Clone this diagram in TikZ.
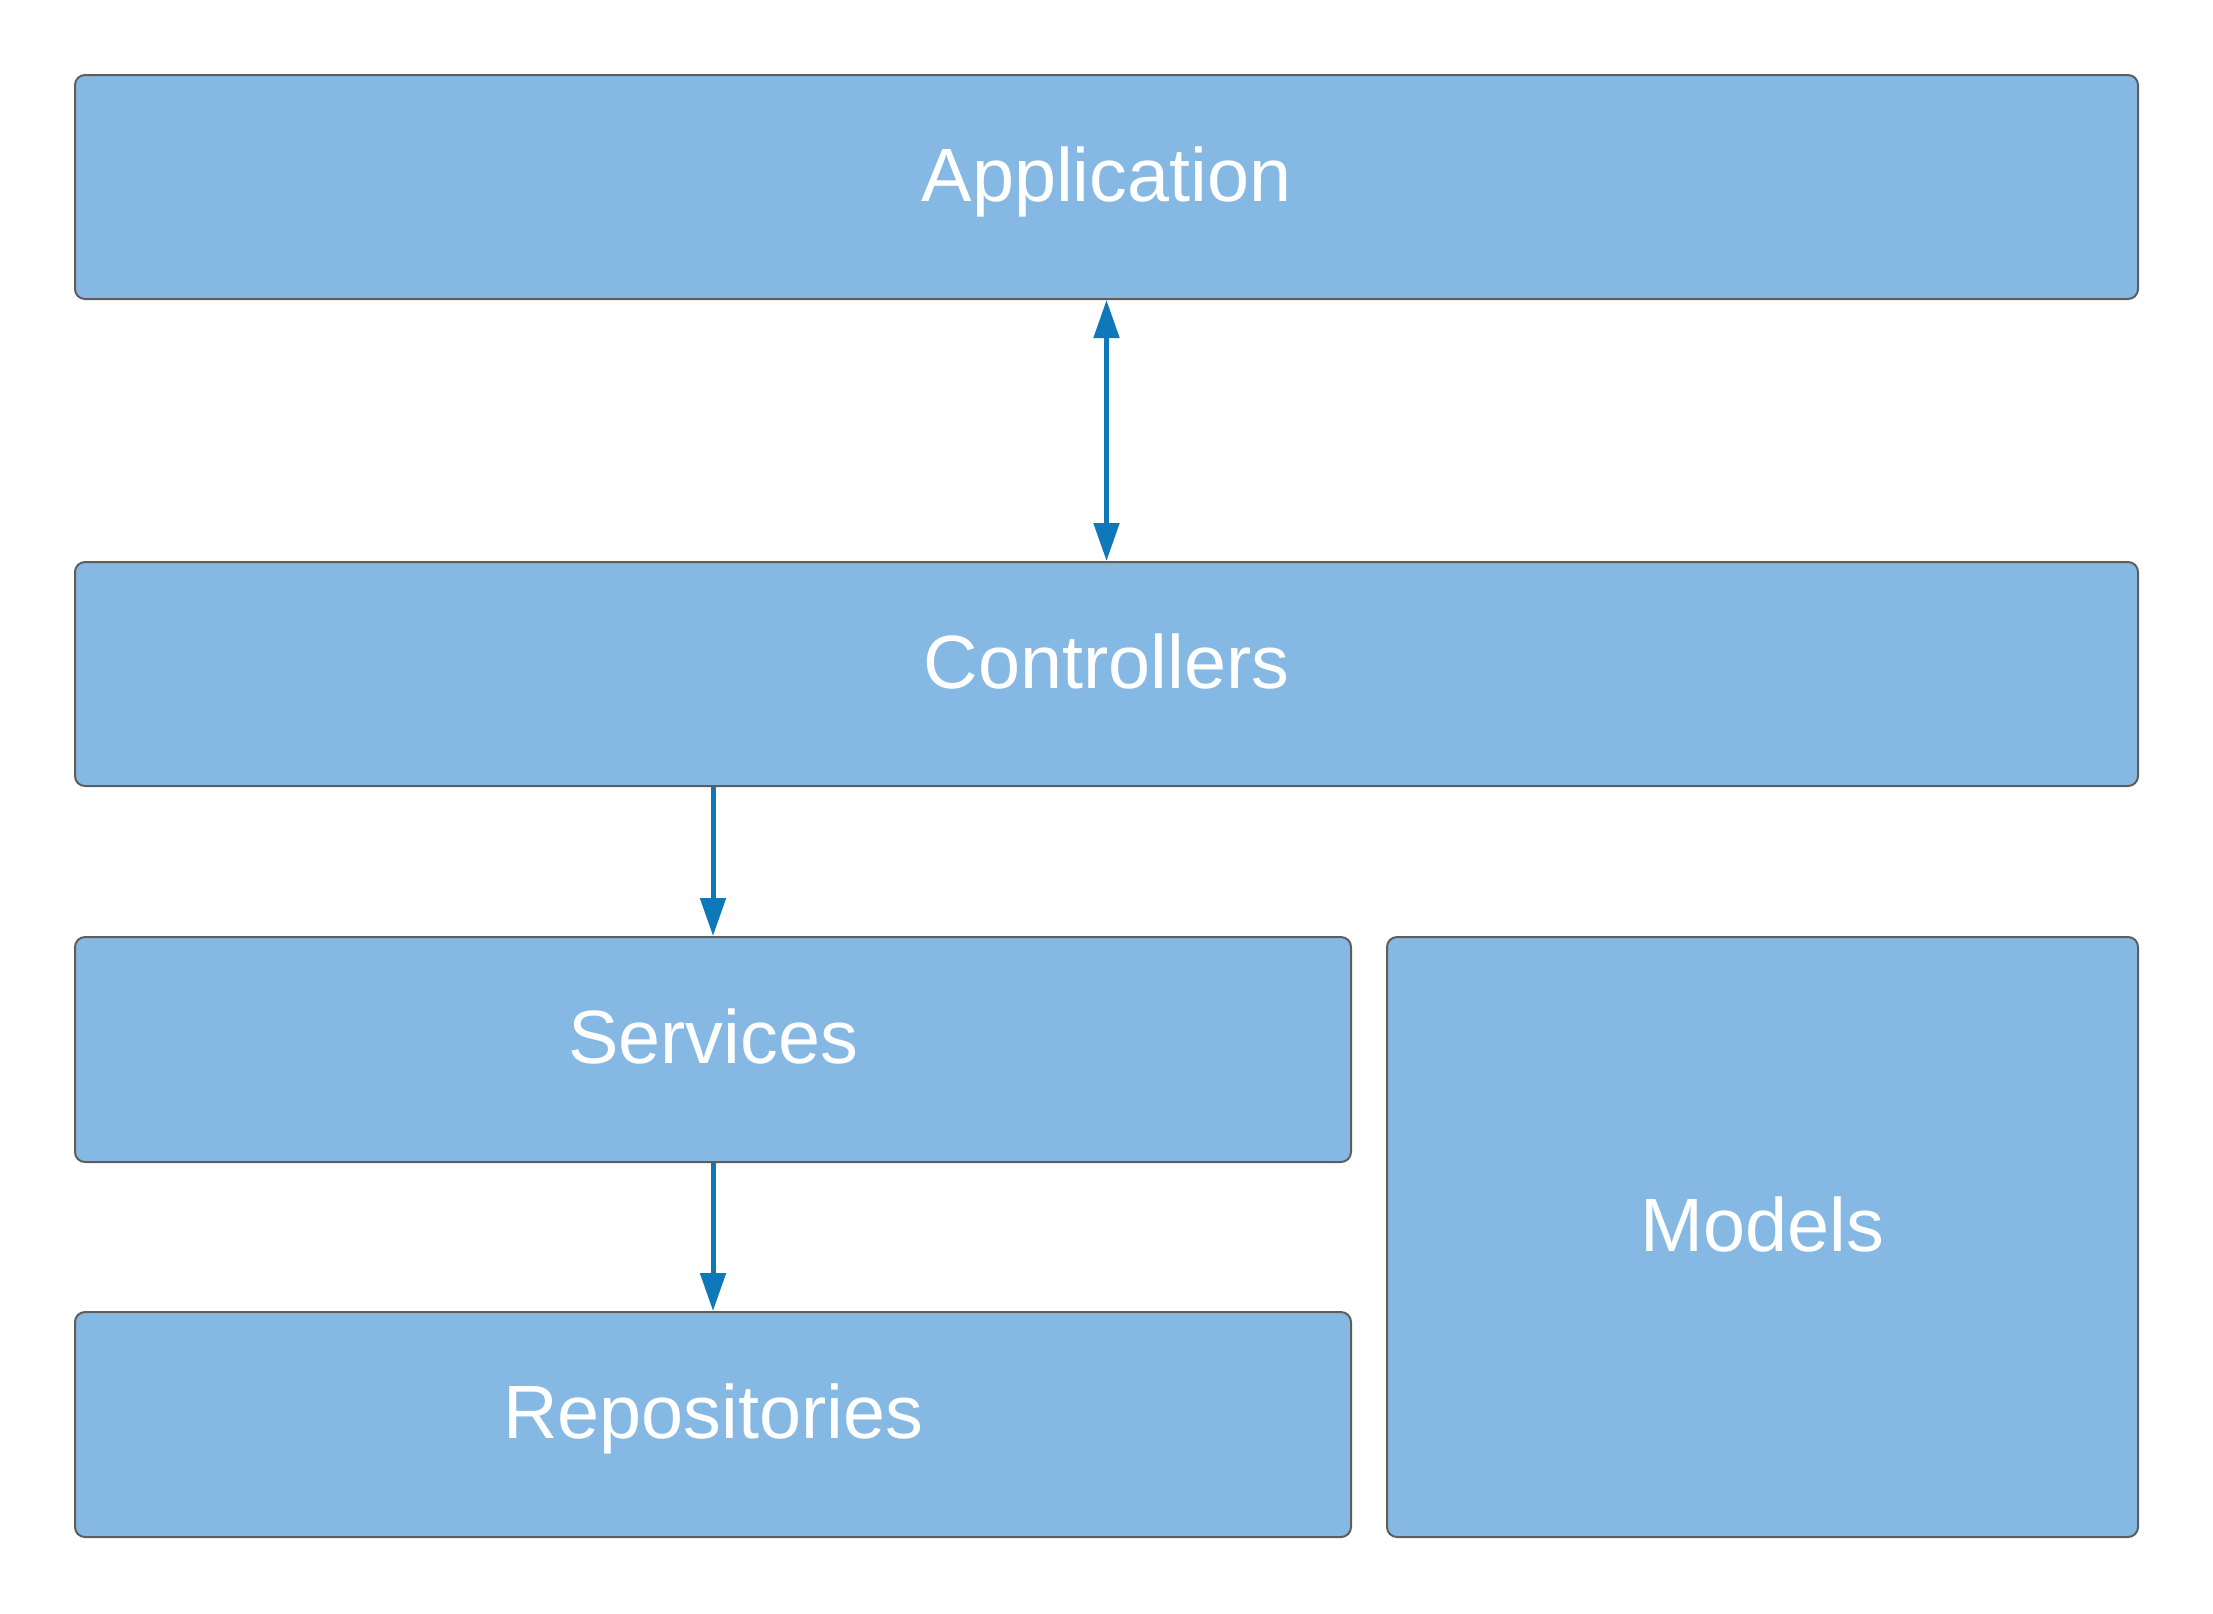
\documentclass[tikz,border=0pt]{standalone}
\usepackage{fontspec}
\setmainfont{Liberation Sans}
\usetikzlibrary{arrows.meta}
\definecolor{layerfill}{HTML}{85B9E3}
\definecolor{layerline}{HTML}{5E5E5E}
\definecolor{arrowblue}{HTML}{0E78B8}
\tikzset{
  layer/.style={draw=layerline,fill=layerfill,line width=0.04cm,rounded corners=0.2cm,
    inner sep=0pt,text=white,font=\fontsize{43}{51}\selectfont,
    text height=1.12cm,text depth=0.56cm},
  flow/.style={draw=arrowblue,line width=0.1cm,
    -{Triangle[width=0.5cm,length=0.76cm]}},
  flowboth/.style={flow,{Triangle[width=0.5cm,length=0.76cm]}-{Triangle[width=0.5cm,length=0.76cm]}}
}
\begin{document}
\begin{tikzpicture}
\useasboundingbox (0,0) rectangle (44.26,-32.26);
% Schichten
\node[layer,minimum width=41.26cm,minimum height=4.48cm]at(22.13,-3.74)(application){Application};
\node[layer,minimum width=41.26cm,minimum height=4.48cm]at(22.13,-13.48)(controllers){Controllers};
\node[layer,minimum width=25.52cm,minimum height=4.5cm]at(14.26,-20.99)(services){Services};
\node[layer,minimum width=25.52cm,minimum height=4.5cm]at(14.26,-28.49)(repositories){Repositories};
\node[layer,minimum width=15.02cm,minimum height=12cm]at(35.25,-24.74)(models){Models};
% Pfeile
\draw[flowboth](controllers.north) to (application.south);
\draw[flow](controllers.south -| services.north) to (services.north);
\draw[flow](services.south) to (repositories.north);
\end{tikzpicture}
\end{document}
